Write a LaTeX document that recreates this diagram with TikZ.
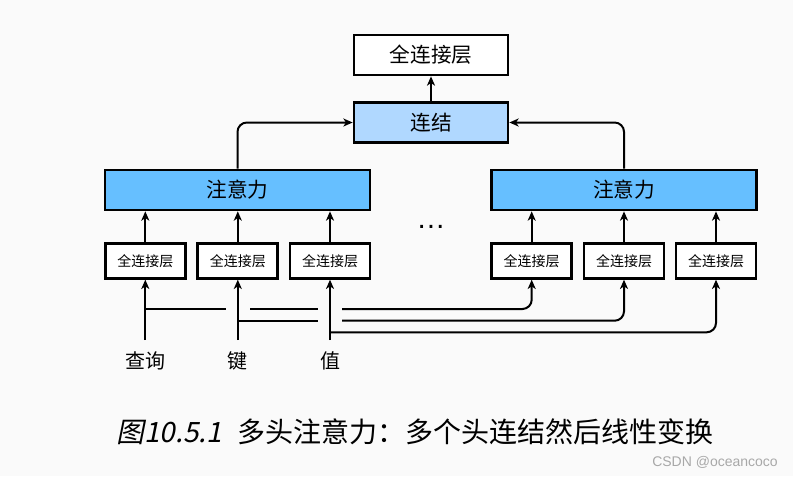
\documentclass[tikz,border=0pt]{standalone}
\usepackage{fontspec}
\setmainfont{Liberation Sans}
\newfontfamily\cjk{Noto Sans CJK SC}
\newfontfamily\cjkit[FakeSlant=0.2]{Noto Sans CJK SC}
\usetikzlibrary{arrows.meta}
\definecolor{bg}{HTML}{FAFAFA}
\definecolor{attc}{HTML}{66BFFF}
\definecolor{catc}{HTML}{B0D8FF}
\definecolor{wm}{HTML}{A8A8A8}
\begin{document}
\begin{tikzpicture}[x=0.75pt,y=-0.75pt,
 box/.style={draw,line width=2pt,inner sep=0pt},
 small/.style={box,fill=white,minimum width=60pt,minimum height=26pt,font=\cjk\fontsize{10.5pt}{12pt}\selectfont},
 big/.style={box,minimum height=30pt,font=\cjk\fontsize{15.5pt}{18pt}\selectfont},
 arr/.style={line width=1.5pt,-{Stealth[length=7pt,width=6pt,inset=2pt]}},
 ln/.style={line width=1.5pt},
 lab/.style={font=\cjk\fontsize{15pt}{18pt}\selectfont}]
\fill[bg] (0,0) rectangle (793,476);
\useasboundingbox (0,0) rectangle (793,476);
% top
\node[big,fill=white,minimum width=115.5pt] (fc) at (431,55) {全连接层};
\node[big,fill=catc,minimum width=115.5pt] (cat) at (431,122.5) {连结};
\node[big,fill=attc,minimum width=198.75pt] (att1) at (237.5,190) {注意力};
\node[big,fill=attc,minimum width=198.75pt] (att2) at (624,190) {注意力};
% small boxes
\node[small] (s1) at (145.3,261) {全连接层};
\node[small] (s2) at (237.8,261) {全连接层};
\node[small] (s3) at (330,261) {全连接层};
\node[small] (s4) at (531.7,261) {全连接层};
\node[small] (s5) at (624,261) {全连接层};
\node[small] (s6) at (716,261) {全连接层};
% dots
\node[anchor=base,inner sep=0pt,font=\fontsize{22pt}{24pt}\selectfont] (dots) at (431,228) {…};
% arrows up
\foreach \s/\a in {s1/att1,s2/att1,s3/att1,s4/att2,s5/att2,s6/att2}
  \draw[arr] (\s.north) -- (\s.north |- \a.south);
\draw[arr,rounded corners=7pt] (att1.north) |- (cat.west);
\draw[arr,rounded corners=7pt] (att2.north) |- (cat.east);
\draw[arr] (cat.north) -- (fc.south);
% inputs
\node[lab] (lq) at (145.3,361) {查询};
\node[lab] (lk) at (237.8,361) {键};
\node[lab] (lv) at (330,361) {值};
\coordinate (q) at (145.3,340);
\coordinate (k) at (237.8,340);
\coordinate (v) at (330,340);
\draw[arr] (q) -- (s1.south);
\draw[arr] (k) -- (s2.south);
\draw[arr] (v) -- (s3.south);
% query branch
\coordinate (q0) at (145.3,309);
\coordinate (q1) at (226,309);
\coordinate (q2) at (250,309);
\coordinate (q3) at (318,309);
\coordinate (q4) at (342,309);
\draw[ln] (q0) -- (q1);
\draw[ln] (q2) -- (q3);
\draw[arr,rounded corners=7pt] (q4) -| (s4.south);
% key branch
\coordinate (k0) at (237.8,320.7);
\coordinate (k1) at (318,320.7);
\coordinate (k2) at (342,320.7);
\draw[ln] (k0) -- (k1);
\draw[arr,rounded corners=7pt] (k2) -| (s5.south);
% value branch
\coordinate (v0) at (330,332.3);
\draw[arr,rounded corners=7pt] (v0) -| (s6.south);
% caption
\node[anchor=base west,inner sep=0pt,font=\fontsize{21pt}{25pt}\selectfont] (cap) at (116,442)
  {{\cjkit 图10.5.1}\hspace{0.55em}{\cjk 多头注意力：多个头连结然后线性变换}};
\node[anchor=base east,inner sep=0pt,text=wm,font=\fontsize{10.5pt}{12pt}\selectfont] (wmk) at (778,466) {CSDN @oceancoco};
\end{tikzpicture}
\end{document}
